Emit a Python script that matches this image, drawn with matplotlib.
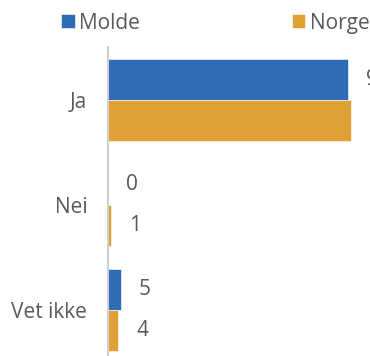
import matplotlib
matplotlib.use("Agg")
import matplotlib.pyplot as plt
import numpy as np

plt.rcParams['font.family'] = ['Open Sans', 'DejaVu Sans']

# svar i prosent
categories = ['Ja', 'Nei', 'Vet ikke']
molde = [95, 0, 5]
norge = [96, 1, 4]
series = ['Molde', 'Norge']
colors = ['#2E6DB5', '#E0A036']
text_color = '#595959'

fig = plt.figure(figsize=(3.70, 3.56), dpi=100)
ax = fig.add_axes([108 / 370, 0, 262 / 370, 309 / 356])

y = np.arange(len(categories))
h = 0.39
for vals, off, col, name in [(molde, -h / 2, colors[0], series[0]),
                             (norge, h / 2, colors[1], series[1])]:
    bars = ax.barh(y + off, vals, height=h, color=col, label=name,
                   edgecolor='white', linewidth=0.4)
    for b, v in zip(bars, vals):
        ax.annotate(str(v), (b.get_width(), b.get_y() + b.get_height() / 2),
                    xytext=(13, 0), textcoords='offset points',
                    va='center', ha='left', fontsize=15, color=text_color,
                    annotation_clip=False)

ax.set_xlim(0, 262 / 2.53)
ax.set_ylim(2.438, -0.505)
ax.set_yticks(y)
ax.set_yticklabels(categories, fontsize=15, color=text_color)
ax.tick_params(axis='y', length=0, pad=15)
ax.set_xticks([])
for s in ['top', 'right', 'bottom']:
    ax.spines[s].set_visible(False)
ax.spines['left'].set_color('#D0D0D0')
ax.spines['left'].set_linewidth(1.5)

fig.legend(loc='center left', bbox_to_anchor=(0.143, 0.935), ncol=2, frameon=False,
           fontsize=15, handlelength=0.65, handleheight=0.65, handletextpad=0.2,
           columnspacing=7.3, labelcolor=text_color, borderaxespad=0)

fig.savefig('out.png', dpi=100)
